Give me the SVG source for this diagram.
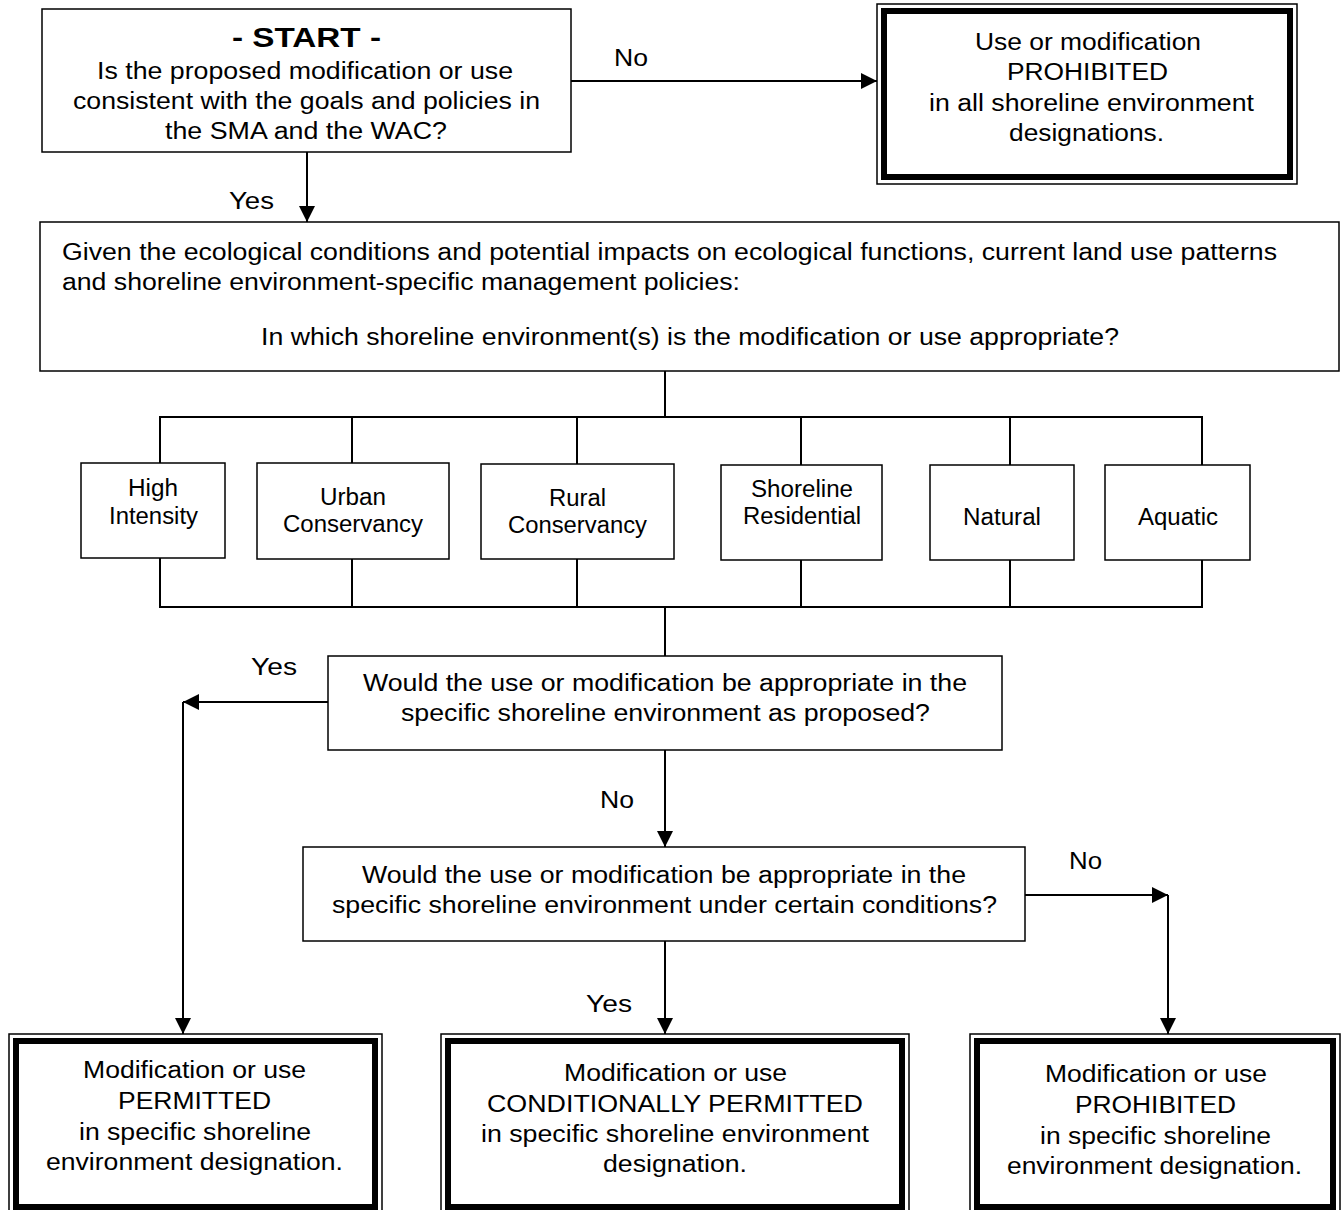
<svg xmlns="http://www.w3.org/2000/svg" width="1343" height="1210" viewBox="0 0 1343 1210">
<defs>
<marker id="ah" viewBox="0 0 10 10" refX="10" refY="5" markerWidth="16" markerHeight="16" markerUnits="userSpaceOnUse" orient="auto">
<path d="M0,0 L10,5 L0,10 z" fill="#000"/>
</marker>
<style>
.box{fill:#fff;stroke:#000;stroke-width:1.5}
.outer{fill:#fff;stroke:#000;stroke-width:1.5}
.thick{fill:none;stroke:#000;stroke-width:6}
.ln{fill:none;stroke:#000;stroke-width:2}
text{font-family:"Liberation Sans",Arial,sans-serif;font-size:23px;fill:#000;text-anchor:middle}
.st{text-anchor:start}
</style>
</defs>
<rect width="1343" height="1210" fill="#fff"/>
<g id="connectors">
<line class="ln" x1="571" y1="81" x2="877" y2="81" marker-end="url(#ah)"/>
<line class="ln" x1="307" y1="152" x2="307" y2="222" marker-end="url(#ah)"/>
<line class="ln" x1="665" y1="371" x2="665" y2="417"/>
<polyline class="ln" points="160,463 160,417 1202,417 1202,465"/>
<line class="ln" x1="352" y1="417" x2="352" y2="463"/>
<line class="ln" x1="577" y1="417" x2="577" y2="464"/>
<line class="ln" x1="801" y1="417" x2="801" y2="465"/>
<line class="ln" x1="1010" y1="417" x2="1010" y2="465"/>
<polyline class="ln" points="160,558 160,607 1202,607 1202,560"/>
<line class="ln" x1="352" y1="559" x2="352" y2="607"/>
<line class="ln" x1="577" y1="559" x2="577" y2="607"/>
<line class="ln" x1="801" y1="560" x2="801" y2="607"/>
<line class="ln" x1="1010" y1="560" x2="1010" y2="607"/>
<line class="ln" x1="665" y1="607" x2="665" y2="656"/>
<line class="ln" x1="328" y1="702" x2="183" y2="702" marker-end="url(#ah)"/>
<line class="ln" x1="183" y1="702" x2="183" y2="1034" marker-end="url(#ah)"/>
<line class="ln" x1="665" y1="750" x2="665" y2="847" marker-end="url(#ah)"/>
<line class="ln" x1="1025" y1="895" x2="1168" y2="895" marker-end="url(#ah)"/>
<line class="ln" x1="1168" y1="895" x2="1168" y2="1034" marker-end="url(#ah)"/>
<line class="ln" x1="665" y1="941" x2="665" y2="1034" marker-end="url(#ah)"/>
<text x="631" y="66" textLength="34" lengthAdjust="spacingAndGlyphs">No</text>
<text x="251.5" y="209" textLength="45" lengthAdjust="spacingAndGlyphs">Yes</text>
<text x="274" y="675" textLength="46" lengthAdjust="spacingAndGlyphs">Yes</text>
<text x="617" y="808" textLength="34" lengthAdjust="spacingAndGlyphs">No</text>
<text x="1085.5" y="869" textLength="33" lengthAdjust="spacingAndGlyphs">No</text>
<text x="609" y="1012" textLength="46" lengthAdjust="spacingAndGlyphs">Yes</text>
</g>
<g id="start">
<rect class="box" x="42" y="9" width="529" height="143"/>
<text x="306.5" y="47" textLength="149" lengthAdjust="spacingAndGlyphs" style="font-weight:bold;font-size:27px">- START -</text>
<text x="305" y="79" textLength="416" lengthAdjust="spacingAndGlyphs">Is the proposed modification or use</text>
<text x="306.5" y="109" textLength="467" lengthAdjust="spacingAndGlyphs">consistent with the goals and policies in</text>
<text x="306" y="139" textLength="282" lengthAdjust="spacingAndGlyphs">the SMA and the WAC?</text>
</g>
<g id="prohibited-all">
<rect class="outer" x="877" y="4" width="420" height="180"/>
<rect class="thick" x="884" y="11" width="406" height="166"/>
<text x="1088" y="50" textLength="226" lengthAdjust="spacingAndGlyphs">Use or modification</text>
<text x="1087.5" y="80" textLength="161" lengthAdjust="spacingAndGlyphs">PROHIBITED</text>
<text x="1091.5" y="111" textLength="325" lengthAdjust="spacingAndGlyphs">in all shoreline environment</text>
<text x="1086.5" y="141" textLength="155" lengthAdjust="spacingAndGlyphs">designations.</text>
</g>
<g id="which-env">
<rect class="box" x="40" y="222" width="1299" height="149"/>
<text class="st" x="62" y="260" textLength="1215" lengthAdjust="spacingAndGlyphs">Given the ecological conditions and potential impacts on ecological functions, current land use patterns</text>
<text class="st" x="62" y="290" textLength="678" lengthAdjust="spacingAndGlyphs">and shoreline environment-specific management policies:</text>
<text x="690" y="345" textLength="858" lengthAdjust="spacingAndGlyphs">In which shoreline environment(s) is the modification or use appropriate?</text>
</g>
<g id="high-intensity">
<rect class="box" x="81" y="463" width="144" height="95"/>
<text x="153" y="496" textLength="50" lengthAdjust="spacingAndGlyphs">High</text>
<text x="153.5" y="524" textLength="89" lengthAdjust="spacingAndGlyphs">Intensity</text>
</g>
<g id="urban-conservancy">
<rect class="box" x="257" y="463" width="192" height="96"/>
<text x="353" y="505" textLength="66" lengthAdjust="spacingAndGlyphs">Urban</text>
<text x="353" y="532" textLength="140" lengthAdjust="spacingAndGlyphs">Conservancy</text>
</g>
<g id="rural-conservancy">
<rect class="box" x="481" y="464" width="193" height="95"/>
<text x="577.5" y="506" textLength="57" lengthAdjust="spacingAndGlyphs">Rural</text>
<text x="577.5" y="533" textLength="139" lengthAdjust="spacingAndGlyphs">Conservancy</text>
</g>
<g id="shoreline-residential">
<rect class="box" x="721" y="465" width="161" height="95"/>
<text x="802" y="497" textLength="102" lengthAdjust="spacingAndGlyphs">Shoreline</text>
<text x="802" y="524" textLength="118" lengthAdjust="spacingAndGlyphs">Residential</text>
</g>
<g id="natural">
<rect class="box" x="930" y="465" width="144" height="95"/>
<text x="1002" y="525" textLength="78" lengthAdjust="spacingAndGlyphs">Natural</text>
</g>
<g id="aquatic">
<rect class="box" x="1105" y="465" width="145" height="95"/>
<text x="1178" y="525" textLength="80" lengthAdjust="spacingAndGlyphs">Aquatic</text>
</g>
<g id="q-proposed">
<rect class="box" x="328" y="656" width="674" height="94"/>
<text x="665" y="691" textLength="604" lengthAdjust="spacingAndGlyphs">Would the use or modification be appropriate in the</text>
<text x="665.5" y="721" textLength="529" lengthAdjust="spacingAndGlyphs">specific shoreline environment as proposed?</text>
</g>
<g id="q-conditions">
<rect class="box" x="303" y="847" width="722" height="94"/>
<text x="664" y="883" textLength="604" lengthAdjust="spacingAndGlyphs">Would the use or modification be appropriate in the</text>
<text x="664.5" y="913" textLength="665" lengthAdjust="spacingAndGlyphs">specific shoreline environment under certain conditions?</text>
</g>
<g id="permitted">
<rect class="outer" x="9" y="1034" width="373" height="180"/>
<rect class="thick" x="16" y="1041" width="359" height="166"/>
<text x="194.5" y="1078" textLength="223" lengthAdjust="spacingAndGlyphs">Modification or use</text>
<text x="194.5" y="1109" textLength="153" lengthAdjust="spacingAndGlyphs">PERMITTED</text>
<text x="195" y="1140" textLength="232" lengthAdjust="spacingAndGlyphs">in specific shoreline</text>
<text x="194.5" y="1170" textLength="297" lengthAdjust="spacingAndGlyphs">environment designation.</text>
</g>
<g id="conditional">
<rect class="outer" x="441" y="1034" width="468" height="180"/>
<rect class="thick" x="448" y="1041" width="454" height="166"/>
<text x="675.5" y="1081" textLength="223" lengthAdjust="spacingAndGlyphs">Modification or use</text>
<text x="675" y="1112" textLength="376" lengthAdjust="spacingAndGlyphs">CONDITIONALLY PERMITTED</text>
<text x="675" y="1142" textLength="388" lengthAdjust="spacingAndGlyphs">in specific shoreline environment</text>
<text x="675" y="1172" textLength="144" lengthAdjust="spacingAndGlyphs">designation.</text>
</g>
<g id="prohibited-specific">
<rect class="outer" x="970" y="1034" width="370" height="180"/>
<rect class="thick" x="977" y="1041" width="356" height="166"/>
<text x="1156" y="1082" textLength="222" lengthAdjust="spacingAndGlyphs">Modification or use</text>
<text x="1155.5" y="1113" textLength="161" lengthAdjust="spacingAndGlyphs">PROHIBITED</text>
<text x="1155.5" y="1144" textLength="231" lengthAdjust="spacingAndGlyphs">in specific shoreline</text>
<text x="1154.5" y="1174" textLength="295" lengthAdjust="spacingAndGlyphs">environment designation.</text>
</g>
</svg>
